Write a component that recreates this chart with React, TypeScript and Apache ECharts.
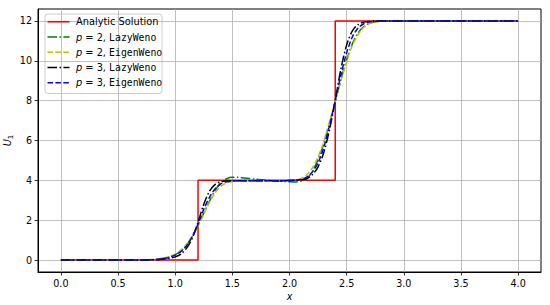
import React, { useEffect, useRef } from "react";
import * as echarts from "echarts";

const xTicks = [0, 0.5, 1.0, 1.5, 2.0, 2.5, 3.0, 3.5, 4.0];
const yTicks = [0, 2, 4, 6, 8, 10, 12];

const analyticX = [0, 1.2, 1.2, 2.4, 2.4, 4.0];
const analyticY = [0, 0, 4, 4, 12, 12];

const xs = [0, 0.5, 0.7, 0.8, 0.85, 0.9, 0.95, 1.0, 1.05, 1.1, 1.15, 1.2, 1.25, 1.3, 1.35, 1.4, 1.45, 1.5, 1.55, 1.6, 1.7, 1.8, 1.9, 2.0, 2.05, 2.1, 2.15, 2.2, 2.25, 2.3, 2.35, 2.4, 2.45, 2.5, 2.55, 2.6, 2.65, 2.7, 2.75, 2.8, 2.9, 3.0, 3.5, 4.0];

const p2Lazy = [0, 0, 0, 0.02, 0.05, 0.09, 0.16, 0.27, 0.45, 0.75, 1.2, 1.75, 2.35, 2.95, 3.5, 3.88, 4.08, 4.15, 4.15, 4.12, 4.06, 4.01, 3.96, 3.93, 3.92, 3.95, 4.08, 4.45, 5.05, 5.85, 6.85, 7.95, 9.05, 10.05, 10.85, 11.4, 11.72, 11.88, 11.96, 11.99, 12, 12, 12, 12];
const p2Eigen = [0, 0, 0.01, 0.03, 0.06, 0.1, 0.18, 0.3, 0.5, 0.8, 1.2, 1.7, 2.3, 2.9, 3.38, 3.7, 3.87, 3.94, 3.97, 3.98, 3.98, 3.98, 3.99, 4.0, 4.03, 4.1, 4.28, 4.62, 5.18, 5.95, 6.95, 7.98, 9.0, 9.95, 10.78, 11.32, 11.68, 11.87, 11.95, 11.99, 12, 12, 12, 12];
const p3Lazy = [0, 0, 0, 0.01, 0.02, 0.05, 0.09, 0.16, 0.3, 0.6, 1.1, 1.9, 2.8, 3.45, 3.8, 3.93, 3.97, 3.98, 3.98, 3.98, 3.98, 3.98, 3.98, 3.99, 4.0, 4.02, 4.08, 4.28, 4.68, 5.4, 6.55, 8.0, 9.6, 10.8, 11.5, 11.82, 11.94, 11.98, 12, 12, 12, 12, 12, 12];
const p3Eigen = [0, 0, 0, 0.02, 0.04, 0.08, 0.14, 0.25, 0.42, 0.72, 1.18, 1.8, 2.55, 3.15, 3.58, 3.82, 3.93, 3.97, 3.98, 3.98, 3.98, 3.98, 3.98, 3.99, 4.01, 4.05, 4.16, 4.42, 4.88, 5.65, 6.75, 8.0, 9.3, 10.4, 11.2, 11.65, 11.86, 11.95, 11.98, 12, 12, 12, 12, 12];

const FONT = "DejaVu Sans";

const seriesDefs = [
  { name: "Analytic Solution", xsArr: analyticX, ys: analyticY, color: "#ff0000", dash: "solid" as any, p: null, method: null },
  { name: "p = 2, LazyWeno", xsArr: xs, ys: p2Lazy, color: "#008000", dash: [9.6, 2.4, 1.5, 2.4], p: "2", method: "LazyWeno" },
  { name: "p = 2, EigenWeno", xsArr: xs, ys: p2Eigen, color: "#bfbf00", dash: [5.5, 2.4], p: "2", method: "EigenWeno" },
  { name: "p = 3, LazyWeno", xsArr: xs, ys: p3Lazy, color: "#000000", dash: [9.6, 2.4, 1.5, 2.4], p: "3", method: "LazyWeno" },
  { name: "p = 3, EigenWeno", xsArr: xs, ys: p3Eigen, color: "#0000ff", dash: [5.5, 2.4], p: "3", method: "EigenWeno" },
];

export default function App() {
  const ref = useRef<HTMLDivElement>(null);
  useEffect(() => {
    if (!ref.current) return;
    const chart = echarts.init(ref.current, null, { renderer: "svg" });
    const legendX = 45, legendY = 14, rowH = 15.25, firstRow = 21.75;
    const legendChildren: any[] = [
      {
        type: "rect",
        shape: { x: legendX, y: legendY, width: 117, height: 79.5, r: 3 },
        style: { fill: "rgba(255,255,255,0.8)", stroke: "#cccccc", lineWidth: 1 },
      },
    ];
    seriesDefs.forEach((s, i) => {
      const y = firstRow + i * rowH;
      legendChildren.push({
        type: "line",
        z: 10,
        shape: { x1: 47.5, y1: y, x2: 69.5, y2: y },
        style: { stroke: s.color, lineWidth: 1.6, lineDash: s.dash === "solid" ? null : s.dash, opacity: 1 },
      });
      legendChildren.push({
        type: "text",
        z: 10,
        x: 76,
        y: y,
        style: {
          text: s.p ? `{i|p}{n| = ${s.p}, }{m|${s.method}}` : s.name,
          fontFamily: FONT,
          fontSize: 9.8,
          fill: "#000",
          verticalAlign: "middle",
          rich: {
            i: { fontFamily: FONT, fontStyle: "italic", fontSize: 9.8, fill: "#000" },
            n: { fontFamily: FONT, fontSize: 9.8, fill: "#000" },
            m: { fontFamily: "DejaVu Sans Mono", fontSize: 9.8, fill: "#000" },
          },
        },
      });
    });

    chart.setOption({
      animation: false,
      backgroundColor: "#ffffff",
      grid: {
        left: 38,
        right: 9,
        top: 9,
        bottom: 33,
        show: true,
        borderColor: "#000",
        borderWidth: 1,
        backgroundColor: "transparent",
        containLabel: false,
        outerBoundsMode: "none",
      },
      xAxis: {
        type: "value",
        min: -0.2,
        max: 4.2,
        name: "x",
        nameLocation: "middle",
        nameGap: 19,
        nameMoveOverlap: false,
        nameTextStyle: { fontFamily: FONT, fontStyle: "italic", fontSize: 9.6, color: "#000" },
        axisLine: { show: true, onZero: false, lineStyle: { color: "#000", width: 1 } },
        axisTick: { show: true, length: 3.5, customValues: xTicks, lineStyle: { color: "#000", width: 0.8 } },
        axisLabel: {
          customValues: xTicks,
          margin: 6,
          fontFamily: FONT,
          fontSize: 9.6,
          color: "#000",
          formatter: (v: number) => v.toFixed(1),
        },
        splitLine: { show: true, lineStyle: { color: "#b0b0b0", width: 0.8 } },
      },
      yAxis: {
        type: "value",
        min: -0.6,
        max: 12.6,
        name: "{u|U}{s|1}",
        nameLocation: "middle",
        nameGap: 24,
        nameRotate: 90,
        nameMoveOverlap: false,
        nameTextStyle: {
          fontFamily: FONT,
          fontSize: 9.6,
          color: "#000",
          rich: {
            u: { fontFamily: FONT, fontStyle: "italic", fontSize: 9.8, color: "#000", lineHeight: 14, verticalAlign: "middle" },
            s: { fontFamily: FONT, fontSize: 7, color: "#000", verticalAlign: "bottom", lineHeight: 14, padding: [4, 0, 0, 0] },
          },
        },
        axisLine: { show: true, onZero: false, lineStyle: { color: "#000", width: 1 } },
        axisTick: { show: true, length: 3.5, customValues: yTicks, lineStyle: { color: "#000", width: 0.8 } },
        axisLabel: {
          customValues: yTicks,
          margin: 6,
          fontFamily: FONT,
          fontSize: 9.6,
          color: "#000",
        },
        splitLine: { show: true, lineStyle: { color: "#b0b0b0", width: 0.8 } },
      },
      series: seriesDefs.map((s) => ({
        name: s.name,
        type: "line",
        data: s.xsArr.map((x, i) => [x, s.ys[i]]),
        showSymbol: false,
        symbol: "none",
        smooth: s.p ? 0.3 : false,
        lineStyle: { color: s.color, width: 1.5, type: s.dash },
        itemStyle: { color: s.color },
      })),
      graphic: [{ type: "group", children: legendChildren }],
    });
    return () => chart.dispose();
  }, []);
  return (
    <div
      ref={ref}
      style={{ position: "absolute", left: 0, top: 0, width: 550, height: 305 }}
    />
  );
}
